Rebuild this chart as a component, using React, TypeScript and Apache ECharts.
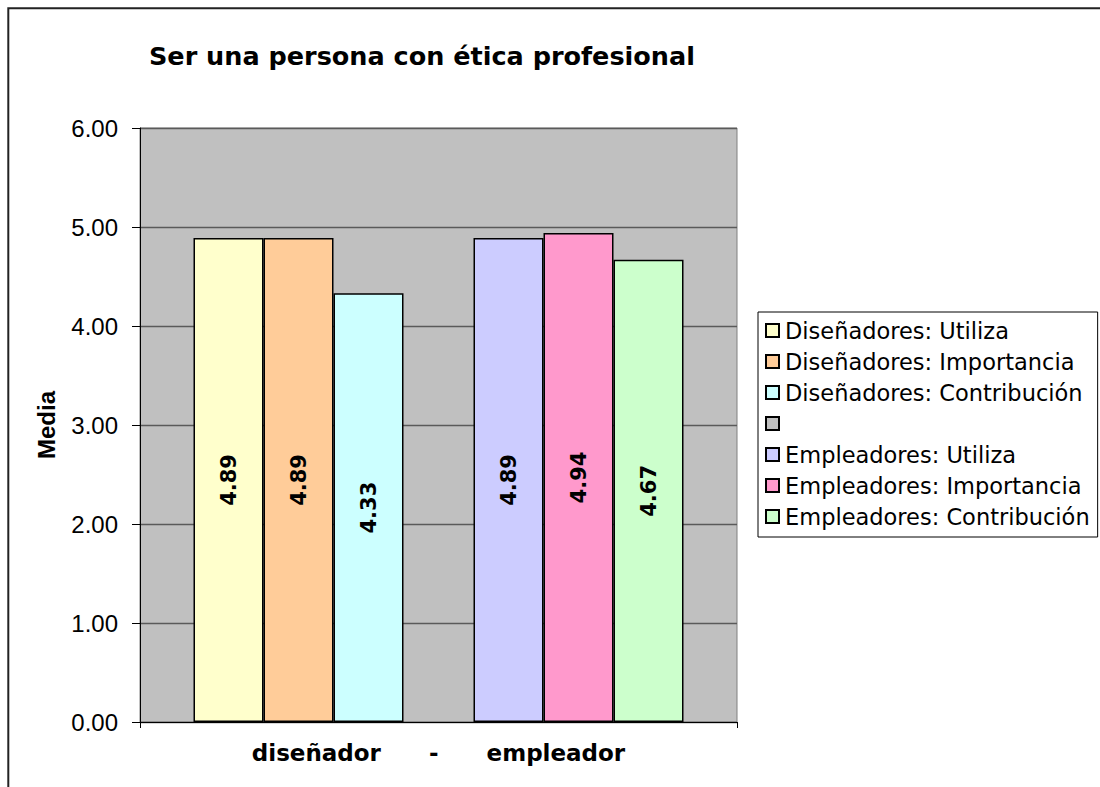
import React, { useEffect, useRef } from "react";
import * as echarts from "echarts";

const categories = ["diseñador      -      empleador"];
const seriesNames = [
  "Diseñadores: Utiliza",
  "Diseñadores: Importancia",
  "Diseñadores: Contribución",
  " ",
  "Empleadores: Utiliza",
  "Empleadores: Importancia",
  "Empleadores: Contribución",
];
const disenadorUtiliza = [4.89];
const disenadorImportancia = [4.89];
const disenadorContribucion = [4.33];
const blank: (number | null)[] = [null];
const empleadorUtiliza = [4.89];
const empleadorImportancia = [4.94];
const empleadorContribucion = [4.67];
const seriesValues = [
  disenadorUtiliza,
  disenadorImportancia,
  disenadorContribucion,
  blank,
  empleadorUtiliza,
  empleadorImportancia,
  empleadorContribucion,
];
const seriesColors = ["#FFFFCC", "#FFCC99", "#CCFFFF", "#C0C0C0", "#CCCCFF", "#FF99CC", "#CCFFCC"];
const yTicks = { min: 0, max: 6, interval: 1 };

export default function App() {
  const ref = useRef<HTMLDivElement>(null);
  useEffect(() => {
    if (!ref.current) return;
    const chart = echarts.init(ref.current, null, { renderer: "svg" });
    const dejavu = "'DejaVu Sans', Verdana, sans-serif";
    const arial = "'Liberation Sans', Arial, sans-serif";
    chart.setOption({
      animation: false,
      backgroundColor: "#ffffff",
      title: {
        text: "Ser una persona con ética profesional",
        left: 149,
        top: 43,
        padding: 0,
        textStyle: { fontFamily: dejavu, fontWeight: "bold", fontSize: 25.5, color: "#000" },
      },
      graphic: [
        {
          type: "polyline",
          shape: { points: [[8.3, 787], [8.3, 8.3], [1100, 8.3]] },
          style: { stroke: "#222", lineWidth: 2, fill: "none" },
          z: 100,
        },
      ],
      legend: {
        orient: "vertical",
        left: 758,
        top: 312,
        backgroundColor: "#ffffff",
        borderColor: "#000",
        borderWidth: 1,
        padding: [7, 8, 9, 7],
        itemWidth: 13,
        itemHeight: 13,
        itemGap: 8,
        icon: "rect",
        data: seriesNames,
        textStyle: { fontFamily: dejavu, fontSize: 22.5, color: "#000", padding: [0, 0, 0, 1] },
        selectedMode: false,
      },
      grid: {
        left: 140,
        top: 128,
        width: 597,
        height: 594,
        show: true,
        backgroundColor: "#C0C0C0",
        borderColor: "#808080",
        borderWidth: 1,
      },
      xAxis: {
        type: "category",
        data: categories,
        axisLine: { show: true, lineStyle: { color: "#000", width: 1 } },
        axisTick: { show: true, length: 6, lineStyle: { color: "#000" } },
        axisLabel: {
          margin: 19,
          fontFamily: dejavu,
          fontWeight: "bold",
          fontSize: 23,
          color: "#000",
        },
      },
      yAxis: {
        type: "value",
        min: yTicks.min,
        max: yTicks.max,
        interval: yTicks.interval,
        name: "Media",
        nameLocation: "middle",
        nameRotate: 90,
        nameGap: 82,
        nameTextStyle: { fontFamily: arial, fontWeight: "bold", fontSize: 24, color: "#000" },
        axisLine: { show: true, lineStyle: { color: "#000", width: 1 } },
        axisTick: { show: true, length: 8, lineStyle: { color: "#000" } },
        axisLabel: {
          formatter: (v: number) => v.toFixed(2),
          fontFamily: arial,
          fontSize: 24,
          color: "#000",
          margin: 22,
        },
        splitLine: { show: true, lineStyle: { color: "#5a5a5a", width: 1.3 } },
      },
      series: seriesNames.map((name, i) => ({
        type: "bar",
        name,
        data: seriesValues[i],
        barWidth: 70,
        barGap: "0%",
        itemStyle: { color: seriesColors[i], borderColor: "#000", borderWidth: 1.5 },
        label: {
          show: true,
          position: "inside",
          rotate: 90,
          formatter: (p: any) => (p.value == null ? "" : Number(p.value).toFixed(2)),
          fontFamily: dejavu,
          fontWeight: "bold",
          fontSize: 21,
          color: "#000",
        },
      })),
    });
    return () => chart.dispose();
  }, []);
  return (
    <div
      ref={ref}
      style={{ position: "absolute", left: 0, top: 0, width: 1100, height: 787 }}
    />
  );
}
